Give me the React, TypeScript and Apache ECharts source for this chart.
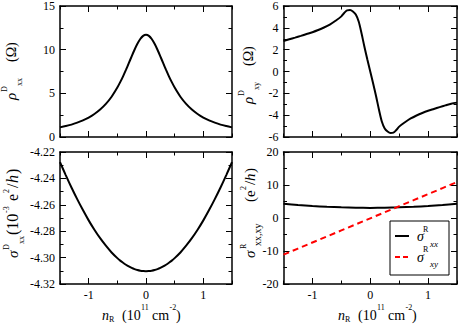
import React, { useEffect, useRef } from 'react';
import * as echarts from 'echarts';

// ---------- data ----------
const nR = [-1.5, -1.4, -1.3, -1.2, -1.1, -1.0, -0.9, -0.8, -0.7, -0.6, -0.5, -0.45, -0.4, -0.35, -0.3, -0.25, -0.2, -0.15, -0.1, -0.05, 0,
  0.05, 0.1, 0.15, 0.2, 0.25, 0.3, 0.35, 0.4, 0.45, 0.5, 0.6, 0.7, 0.8, 0.9, 1.0, 1.1, 1.2, 1.3, 1.4, 1.5];
const rhoXX = [1.10, 1.25, 1.42, 1.64, 1.90, 2.22, 2.63, 3.14, 3.79, 4.61, 5.66, 6.28, 6.95, 7.68, 8.45, 9.24, 9.99, 10.67, 11.22, 11.58, 11.70,
  11.58, 11.22, 10.67, 9.99, 9.24, 8.45, 7.68, 6.95, 6.28, 5.66, 4.61, 3.79, 3.14, 2.63, 2.22, 1.90, 1.64, 1.42, 1.25, 1.10];
const rhoXY = [2.80, 2.95, 3.10, 3.26, 3.43, 3.60, 3.80, 4.03, 4.30, 4.65, 5.05, 5.36, 5.60, 5.63, 5.50, 5.22, 4.58, 3.48, 2.25, 1.10, 0,
  -1.10, -2.25, -3.48, -4.58, -5.22, -5.50, -5.63, -5.60, -5.36, -5.05, -4.65, -4.30, -4.03, -3.80, -3.60, -3.43, -3.26, -3.10, -2.95, -2.85];
const sigXXD = [-4.2277, -4.2375, -4.2469, -4.2557, -4.2640, -4.2718, -4.2789, -4.2853, -4.2910, -4.2961, -4.3004, -4.3023, -4.3039, -4.3054, -4.3067, -4.3078, -4.3087, -4.3094, -4.3099, -4.3102, -4.3103,
  -4.3102, -4.3099, -4.3094, -4.3087, -4.3078, -4.3067, -4.3054, -4.3039, -4.3023, -4.3004, -4.2961, -4.2910, -4.2853, -4.2789, -4.2718, -4.2640, -4.2557, -4.2469, -4.2375, -4.2277];
const nR2 = [-1.5, -1.25, -1.0, -0.75, -0.5, -0.25, 0, 0.25, 0.5, 0.75, 1.0, 1.25, 1.5];
const sigXXR = [4.30, 3.95, 3.65, 3.40, 3.22, 3.10, 3.06, 3.10, 3.22, 3.40, 3.65, 3.95, 4.30];
const sigXYR = [-11.1, -9.27, -7.43, -5.6, -3.77, -1.93, -0.1, 1.73, 3.57, 5.4, 7.23, 9.07, 10.9];
const xMajorTicks = [-1, 0, 1];

// ---------- styling ----------
const FONT = '"Liberation Serif", "Times New Roman", serif';
const BLACK = '#000';

type Tok = { t: string; a: number; b: number; s: number; i?: boolean };

function label(x: number, y: number, rotated: boolean, toks: Tok[], z = 20) {
  return {
    type: 'group',
    x,
    y,
    z,
    rotation: rotated ? Math.PI / 2 : 0,
    children: toks.map((tk) => ({
      type: 'text',
      z,
      x: tk.a,
      y: tk.b - 0.34 * tk.s,
      style: {
        text: tk.t,
        fontSize: tk.s,
        fontFamily: FONT,
        fontStyle: tk.i ? 'italic' : 'normal',
        fill: BLACK,
        align: 'left',
        verticalAlign: 'middle',
      },
    })),
  };
}

const xLabelToks: Tok[] = [
  { t: 'n', a: 0, b: 0, s: 14, i: true },
  { t: 'R', a: 7, b: 2, s: 8 },
  { t: '(10', a: 20, b: 0, s: 14 },
  { t: '11', a: 39, b: -10, s: 8 },
  { t: 'cm', a: 50, b: 0, s: 14 },
  { t: '-2', a: 67.5, b: -10, s: 8 },
  { t: ')', a: 74, b: 0, s: 14 },
];

function xAxesFor(g: number, labels: boolean) {
  const base = {
    type: 'value', gridIndex: g, min: -1.5, max: 1.5, interval: 0.5,
    splitLine: { show: false },
  };
  const major = (pos: string, lab: boolean) => ({
    ...base,
    position: pos,
    axisLine: { show: true, onZero: false, lineStyle: { color: BLACK, width: 1.5 } },
    axisTick: { show: true, inside: true, length: 6, customValues: xMajorTicks, lineStyle: { color: BLACK, width: 1 } },
    axisLabel: lab
      ? { show: true, customValues: xMajorTicks, color: BLACK, fontFamily: FONT, fontSize: 12, margin: 5 }
      : { show: false },
  });
  const minor = (pos: string) => ({
    ...base,
    position: pos,
    axisLine: { show: false, onZero: false },
    axisTick: { show: true, inside: true, length: 3.5, lineStyle: { color: BLACK, width: 1 } },
    axisLabel: { show: false },
  });
  return [major('bottom', labels), minor('bottom'), major('top', false), minor('top')];
}

function yAxesFor(g: number, min: number, max: number, interval: number, fmt?: (v: number) => string) {
  const base = {
    type: 'value', gridIndex: g, min, max, interval,
    splitLine: { show: false },
    axisLine: { show: true, onZero: false, lineStyle: { color: BLACK, width: 1.5 } },
    axisTick: { show: true, inside: true, length: 6, lineStyle: { color: BLACK, width: 1 } },
    minorTick: { show: true, splitNumber: 2, length: 3.5, lineStyle: { color: BLACK, width: 1 } },
  };
  return [
    {
      ...base, position: 'left',
      axisLabel: { show: true, color: BLACK, fontFamily: FONT, fontSize: 12, margin: 5, formatter: fmt },
    },
    { ...base, position: 'right', axisLabel: { show: false } },
  ];
}

const zip = (xs: number[], ys: number[]) => xs.map((x, i) => [x, ys[i]]);

export default function App() {
  const ref = useRef<HTMLDivElement>(null);
  useEffect(() => {
    if (!ref.current) return;
    const chart = echarts.init(ref.current, undefined, { renderer: 'svg' });
    const option = {
      animation: false,
      backgroundColor: '#fff',
      textStyle: { fontFamily: FONT },
      grid: [
        { left: 60, top: 5, width: 172, height: 132 },
        { left: 283.5, top: 5, width: 173.5, height: 132 },
        { left: 60, top: 152, width: 172, height: 132 },
        { left: 283.5, top: 152, width: 173.5, height: 132 },
      ],
      xAxis: [
        ...xAxesFor(0, false),
        ...xAxesFor(1, false),
        ...xAxesFor(2, true),
        ...xAxesFor(3, true),
      ],
      yAxis: [
        ...yAxesFor(0, 0, 15, 5),
        ...yAxesFor(1, -6, 6, 2),
        ...yAxesFor(2, -4.32, -4.22, 0.02, (v: number) => v.toFixed(2)),
        ...yAxesFor(3, -20, 20, 10),
      ],
      series: [
        { type: 'line', xAxisIndex: 0, yAxisIndex: 0, data: zip(nR, rhoXX), symbol: 'none', smooth: 0.3, lineStyle: { color: BLACK, width: 2 } },
        { type: 'line', xAxisIndex: 4, yAxisIndex: 2, data: zip(nR, rhoXY), symbol: 'none', smooth: 0.3, lineStyle: { color: BLACK, width: 2 } },
        { type: 'line', xAxisIndex: 8, yAxisIndex: 4, data: zip(nR, sigXXD), symbol: 'none', smooth: 0.3, lineStyle: { color: BLACK, width: 2 } },
        { type: 'line', xAxisIndex: 12, yAxisIndex: 6, data: zip(nR2, sigXXR), symbol: 'none', smooth: 0.3, lineStyle: { color: BLACK, width: 2 } },
        { type: 'line', xAxisIndex: 12, yAxisIndex: 6, data: zip(nR2, sigXYR), symbol: 'none', lineStyle: { color: '#ff0000', width: 2, type: [6, 4] } },
      ],
      graphic: [
        // y-axis titles
        label(16, 100, true, [
          { t: '\u03c1', a: 0, b: 0, s: 15, i: true },
          { t: 'D', a: 8, b: -9, s: 8 },
          { t: 'xx', a: 14, b: 6, s: 8 },
          { t: '(\u03a9)', a: 38, b: 0, s: 14 },
        ]),
        label(253, 104, true, [
          { t: '\u03c1', a: 0, b: 0, s: 15, i: true },
          { t: 'D', a: 8, b: -9, s: 8 },
          { t: 'xy', a: 14, b: 6, s: 8 },
          { t: '(\u03a9)', a: 38, b: 0, s: 14 },
        ]),
        label(18, 258, true, [
          { t: '\u03c3', a: 0, b: 0, s: 15, i: true },
          { t: 'D', a: 8, b: -9, s: 8 },
          { t: 'xx', a: 14, b: 6, s: 8 },
          { t: '(10', a: 23, b: 0, s: 16 },
          { t: '-3', a: 45, b: -9, s: 8 },
          { t: 'e', a: 57, b: 0, s: 16 },
          { t: '2', a: 65, b: -9, s: 8 },
          { t: '/', a: 70, b: 0, s: 16 },
          { t: 'h', a: 75, b: 0, s: 16, i: true },
          { t: ')', a: 84, b: 0, s: 16 },
        ]),
        label(255, 258, true, [
          { t: '\u03c3', a: 0, b: 0, s: 15, i: true },
          { t: 'R', a: 9, b: -9, s: 8 },
          { t: 'xx,xy', a: 12, b: 6, s: 10 },
          { t: '(e', a: 56, b: 0, s: 15 },
          { t: '2', a: 68, b: -9, s: 8 },
          { t: '/', a: 73, b: 0, s: 15 },
          { t: 'h', a: 77, b: 0, s: 15, i: true },
          { t: ')', a: 85, b: 0, s: 15 },
        ]),
        // x-axis titles
        label(102, 320, false, xLabelToks),
        label(338, 320, false, xLabelToks),
        // legend
        { type: 'rect', z: 30, shape: { x: 390, y: 221, width: 59, height: 54 }, style: { fill: '#fff', stroke: BLACK, lineWidth: 1 } },
        { type: 'line', z: 31, shape: { x1: 395, y1: 236, x2: 409, y2: 236 }, style: { stroke: BLACK, lineWidth: 2 } },
        { type: 'line', z: 31, shape: { x1: 395, y1: 257, x2: 411, y2: 257 }, style: { stroke: '#ff0000', lineWidth: 2, lineDash: [5, 3] } },
        label(417, 241, false, [
          { t: '\u03c3', a: 0, b: 0, s: 14, i: true },
          { t: 'R', a: 6, b: -9, s: 8 },
          { t: 'xx', a: 13, b: 6, s: 9, i: true },
        ], 32),
        label(417, 262, false, [
          { t: '\u03c3', a: 0, b: 0, s: 14, i: true },
          { t: 'R', a: 6, b: -10, s: 8 },
          { t: 'xy', a: 13, b: 5, s: 9, i: true },
        ], 32),
      ],
    };
    chart.setOption(option as any);
    return () => chart.dispose();
  }, []);
  return (
    <div
      ref={ref}
      style={{ position: 'fixed', left: 0, top: 0, width: 463, height: 327, background: '#fff' }}
    />
  );
}
